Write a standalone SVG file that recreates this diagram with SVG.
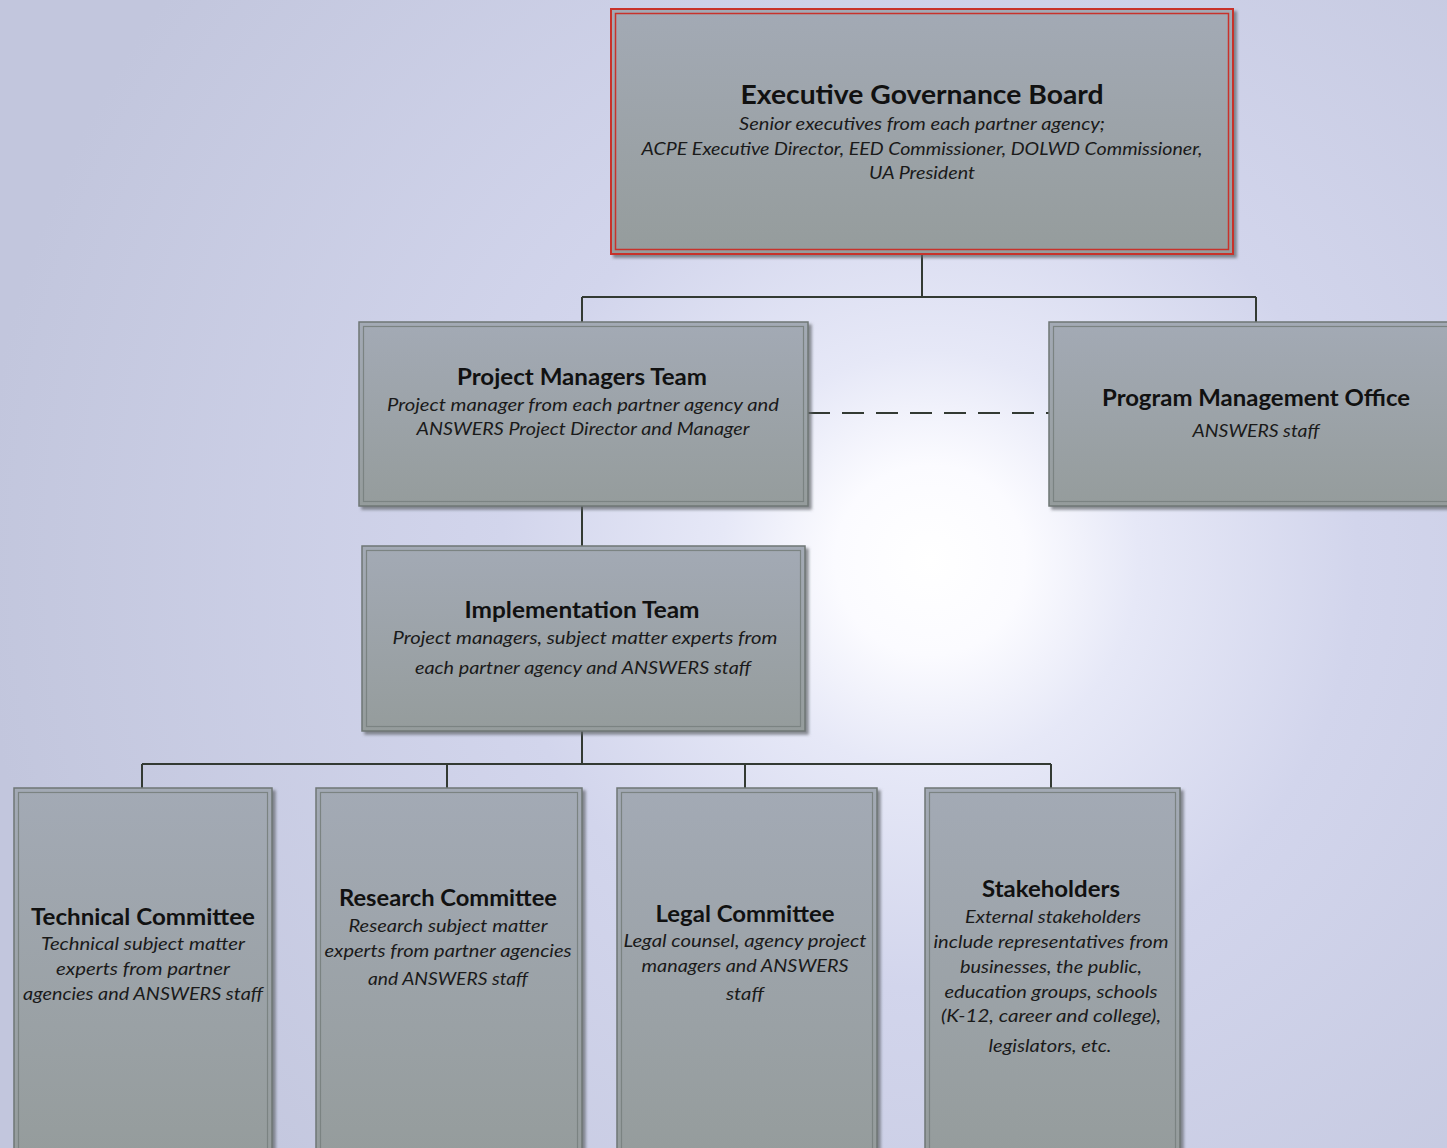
<svg xmlns="http://www.w3.org/2000/svg" width="1447" height="1148" viewBox="0 0 1447 1148">
<defs>
<radialGradient id="bg" cx="930" cy="560" r="950" gradientUnits="userSpaceOnUse">
<stop offset="0" stop-color="#ffffff"/>
<stop offset="0.1" stop-color="#fbfbff"/>
<stop offset="0.22" stop-color="#e6e8f7"/>
<stop offset="0.45" stop-color="#d2d5ec"/>
<stop offset="1" stop-color="#c2c6dd"/>
</radialGradient>
<linearGradient id="box" x1="0" y1="0" x2="0" y2="1">
<stop offset="0" stop-color="#a3aab5"/>
<stop offset="1" stop-color="#959c9c"/>
</linearGradient>
<filter id="sh" x="-5%" y="-5%" width="115%" height="115%">
<feDropShadow dx="3" dy="3" stdDeviation="1.5" flood-color="#5d6266" flood-opacity="0.7"/>
</filter>
</defs>
<style>
.box{fill:url(#box);stroke:#6f7775;stroke-width:1.5;filter:url(#sh)}
.inner{fill:none;stroke:#7b8382;stroke-width:1.2}
.t{font-family:Lato,"Open Sans",sans-serif;font-weight:bold;fill:#111;text-anchor:middle}
.s{font-family:Lato,"Open Sans",sans-serif;font-style:italic;fill:#1a1a1a;text-anchor:middle}
.ln{stroke:#333a33;stroke-width:2;fill:none}
</style>
<rect x="0" y="0" width="1447" height="1148" fill="url(#bg)"/>

<g id="connectors">
<path class="ln" d="M922 254V297M582 297H1256M582 297V322M1256 297V322"/>
<path class="ln" d="M808 413H1049" stroke-dasharray="22,12"/>
<path class="ln" d="M582 506V546M582 731V764M142 764H1051M142 764V788M447 764V788M745 764V788M1051 764V788"/>
</g>

<g id="executive-governance-board">
<rect x="611" y="9" width="622" height="245" fill="url(#box)" stroke="#c8322b" stroke-width="2" filter="url(#sh)"/>
<rect x="615.5" y="13.5" width="613" height="236" fill="none" stroke="#c8322b" stroke-width="1.5"/>
<text class="t" x="922" y="104" font-size="27" textLength="363" lengthAdjust="spacingAndGlyphs">Executive Governance Board</text>
<text class="s" x="922" y="130" font-size="17" textLength="366" lengthAdjust="spacingAndGlyphs">Senior executives from each partner agency;</text>
<text class="s" x="922" y="155" font-size="17" textLength="561" lengthAdjust="spacingAndGlyphs">ACPE Executive Director, EED Commissioner, DOLWD Commissioner,</text>
<text class="s" x="922" y="179" font-size="17" textLength="106" lengthAdjust="spacingAndGlyphs">UA President</text>
</g>

<g id="project-managers-team">
<rect class="box" x="359" y="322" width="449" height="184"/>
<rect class="inner" x="363.5" y="326.5" width="440" height="175"/>
<text class="t" x="582" y="385" font-size="22" textLength="250" lengthAdjust="spacingAndGlyphs">Project Managers Team</text>
<text class="s" x="583" y="411" font-size="17" textLength="392" lengthAdjust="spacingAndGlyphs">Project manager from each partner agency and</text>
<text class="s" x="583" y="435" font-size="17" textLength="333" lengthAdjust="spacingAndGlyphs">ANSWERS Project Director and Manager</text>
</g>

<g id="program-management-office">
<rect class="box" x="1049" y="322" width="410" height="184"/>
<rect class="inner" x="1053.5" y="326.5" width="400" height="175"/>
<text class="t" x="1256" y="406" font-size="22" textLength="308" lengthAdjust="spacingAndGlyphs">Program Management Office</text>
<text class="s" x="1256" y="437" font-size="17" textLength="127" lengthAdjust="spacingAndGlyphs">ANSWERS staff</text>
</g>

<g id="implementation-team">
<rect class="box" x="362" y="546" width="443" height="185"/>
<rect class="inner" x="366.5" y="550.5" width="434" height="176"/>
<text class="t" x="582" y="618" font-size="22" textLength="235" lengthAdjust="spacingAndGlyphs">Implementation Team</text>
<text class="s" x="585" y="644" font-size="17" textLength="385" lengthAdjust="spacingAndGlyphs">Project managers, subject matter experts from</text>
<text class="s" x="583" y="674" font-size="17" textLength="336" lengthAdjust="spacingAndGlyphs">each partner agency and ANSWERS staff</text>
</g>

<g id="technical-committee">
<rect class="box" x="14" y="788" width="258" height="370"/>
<rect class="inner" x="18.5" y="792.5" width="249" height="360"/>
<text class="t" x="143" y="925" font-size="22" textLength="224" lengthAdjust="spacingAndGlyphs">Technical Committee</text>
<text class="s" x="143" y="950" font-size="17" textLength="204" lengthAdjust="spacingAndGlyphs">Technical subject matter</text>
<text class="s" x="143" y="975" font-size="17" textLength="174" lengthAdjust="spacingAndGlyphs">experts from partner</text>
<text class="s" x="143" y="1000" font-size="17" textLength="240" lengthAdjust="spacingAndGlyphs">agencies and ANSWERS staff</text>
</g>

<g id="research-committee">
<rect class="box" x="316" y="788" width="266" height="370"/>
<rect class="inner" x="320.5" y="792.5" width="257" height="360"/>
<text class="t" x="448" y="906" font-size="22" textLength="218" lengthAdjust="spacingAndGlyphs">Research Committee</text>
<text class="s" x="448" y="932" font-size="17" textLength="199" lengthAdjust="spacingAndGlyphs">Research subject matter</text>
<text class="s" x="448" y="957" font-size="17" textLength="247" lengthAdjust="spacingAndGlyphs">experts from partner agencies</text>
<text class="s" x="448" y="985" font-size="17" textLength="160" lengthAdjust="spacingAndGlyphs">and ANSWERS staff</text>
</g>

<g id="legal-committee">
<rect class="box" x="617" y="788" width="260" height="370"/>
<rect class="inner" x="621.5" y="792.5" width="251" height="360"/>
<text class="t" x="745" y="922" font-size="22" textLength="179" lengthAdjust="spacingAndGlyphs">Legal Committee</text>
<text class="s" x="745" y="947" font-size="17" textLength="243" lengthAdjust="spacingAndGlyphs">Legal counsel, agency project</text>
<text class="s" x="745" y="972" font-size="17" textLength="207" lengthAdjust="spacingAndGlyphs">managers and ANSWERS</text>
<text class="s" x="745" y="1000" font-size="17" textLength="38" lengthAdjust="spacingAndGlyphs">staff</text>
</g>

<g id="stakeholders">
<rect class="box" x="925" y="788" width="255" height="370"/>
<rect class="inner" x="929.5" y="792.5" width="246" height="360"/>
<text class="t" x="1051" y="897" font-size="22" textLength="138" lengthAdjust="spacingAndGlyphs">Stakeholders</text>
<text class="s" x="1053" y="923" font-size="17" textLength="176" lengthAdjust="spacingAndGlyphs">External stakeholders</text>
<text class="s" x="1051" y="948" font-size="17" textLength="235" lengthAdjust="spacingAndGlyphs">include representatives from</text>
<text class="s" x="1051" y="973" font-size="17" textLength="182" lengthAdjust="spacingAndGlyphs">businesses, the public,</text>
<text class="s" x="1051" y="998" font-size="17" textLength="213" lengthAdjust="spacingAndGlyphs">education groups, schools</text>
<text class="s" x="1051" y="1022" font-size="17" textLength="220" lengthAdjust="spacingAndGlyphs">(K-12, career and college),</text>
<text class="s" x="1050" y="1052" font-size="17" textLength="123" lengthAdjust="spacingAndGlyphs">legislators, etc.</text>
</g>
</svg>
